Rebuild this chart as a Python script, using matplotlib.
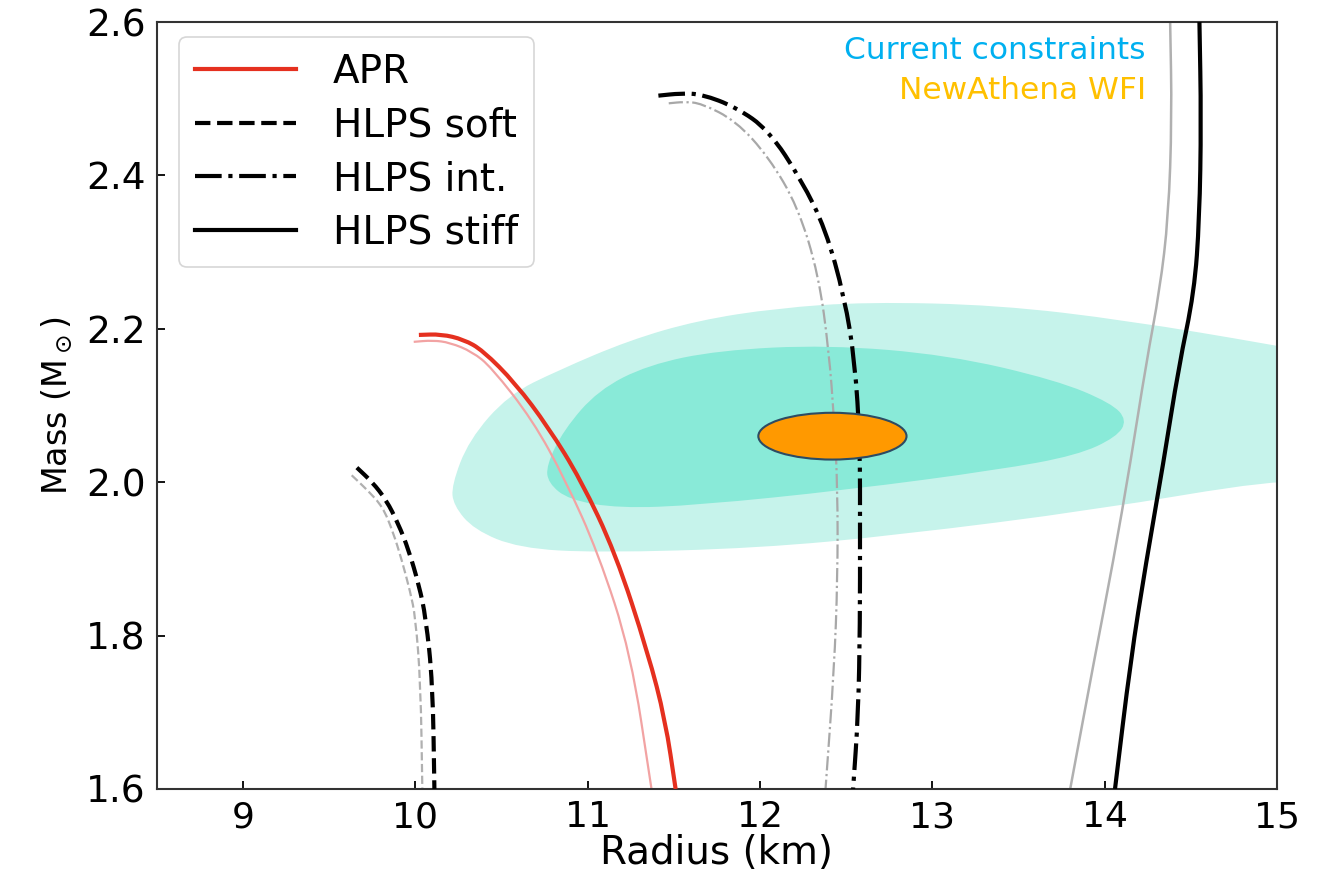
import matplotlib
matplotlib.use("Agg")
import matplotlib.pyplot as plt
from matplotlib.path import Path
from matplotlib.patches import PathPatch, Ellipse
from matplotlib.lines import Line2D

# mass-radius curves (R in km, M in Msun); *_b = companion (pale) track
apr_r = [10.02, 10.15, 10.28, 10.39, 10.58, 10.77, 10.96, 11.16, 11.35, 11.45, 11.51]
apr_m = [2.192, 2.193, 2.186, 2.172, 2.129, 2.072, 2.003, 1.908, 1.777, 1.690, 1.600]
apr_rb = [9.99, 10.10, 10.20, 10.33, 10.44, 10.68, 10.87, 11.06, 11.25, 11.37]
apr_mb = [2.183, 2.185, 2.182, 2.170, 2.150, 2.081, 2.003, 1.908, 1.777, 1.600]

soft_r = [9.66, 9.75, 9.83, 9.90, 9.96, 10.02, 10.06, 10.10, 10.11]
soft_m = [2.019, 2.000, 1.977, 1.946, 1.912, 1.866, 1.824, 1.738, 1.600]
soft_rb = [9.63, 9.72, 9.81, 9.87, 9.92, 9.97, 10.00, 10.03, 10.04]
soft_mb = [2.009, 1.990, 1.968, 1.935, 1.899, 1.857, 1.824, 1.738, 1.600]

int_r = [11.41, 11.54, 11.66, 11.86, 12.05, 12.24, 12.38, 12.49, 12.55, 12.58, 12.58, 12.58, 12.57, 12.54]
int_m = [2.504, 2.507, 2.506, 2.489, 2.459, 2.394, 2.330, 2.241, 2.158, 2.052, 1.934, 1.816, 1.698, 1.600]
int_rb = [11.47, 11.56, 11.66, 11.86, 12.05, 12.22, 12.34, 12.40, 12.43, 12.45, 12.45, 12.43, 12.38]
int_mb = [2.494, 2.496, 2.494, 2.471, 2.424, 2.359, 2.270, 2.170, 2.081, 1.992, 1.875, 1.756, 1.600]

stiff_r = [14.55, 14.56, 14.55, 14.52, 14.43, 14.34, 14.24, 14.15, 14.06]
stiff_m = [2.600, 2.472, 2.343, 2.248, 2.151, 2.024, 1.895, 1.767, 1.600]
stiff_rb = [14.38, 14.39, 14.37, 14.32, 14.24, 14.15, 14.05, 13.94, 13.80]
stiff_mb = [2.600, 2.475, 2.346, 2.251, 2.154, 2.026, 1.897, 1.769, 1.600]

# current constraints: outer / inner credible regions (outline vertices)
outer_r = [10.21, 10.31, 10.54, 10.83, 11.24, 11.64, 12.10, 12.62, 13.38, 14.13, 14.98, 15.30,
           15.30, 14.98, 13.95, 12.80, 11.99, 11.06, 10.60, 10.34, 10.22]
outer_m = [1.996, 2.055, 2.114, 2.146, 2.185, 2.211, 2.227, 2.235, 2.231, 2.211, 2.179, 2.165,
           1.998, 2.003, 1.964, 1.931, 1.914, 1.908, 1.914, 1.938, 1.970]
inner_r = [10.76, 10.86, 11.06, 11.35, 11.76, 12.39, 13.09, 13.72, 14.04, 14.13, 14.07, 13.84,
           13.38, 12.51, 11.64, 11.18, 10.89, 10.77]
inner_m = [2.022, 2.068, 2.120, 2.153, 2.172, 2.179, 2.166, 2.133, 2.103, 2.081, 2.059, 2.035,
           2.016, 1.990, 1.970, 1.966, 1.977, 1.999]

# NewAthena WFI projected constraint
wfi_r, wfi_m = 12.42, 2.06
wfi_dr, wfi_dm = 0.86, 0.061

labels = ["APR", "HLPS soft", "HLPS int.", "HLPS stiff"]


def mid(a, b):
    return ((a[0] + b[0]) / 2, (a[1] + b[1]) / 2)


def smooth_region(xs, ys):
    pts = list(zip(xs, ys))
    n = len(pts)
    verts = [mid(pts[-1], pts[0])]
    codes = [Path.MOVETO]
    for i in range(n):
        verts += [pts[i], mid(pts[i], pts[(i + 1) % n])]
        codes += [Path.CURVE3, Path.CURVE3]
    return Path(verts, codes)


def smooth_curve(xs, ys):
    pts = list(zip(xs, ys))
    verts = [pts[0], mid(pts[0], pts[1])]
    codes = [Path.MOVETO, Path.LINETO]
    for i in range(1, len(pts) - 1):
        verts += [pts[i], mid(pts[i], pts[i + 1])]
        codes += [Path.CURVE3, Path.CURVE3]
    verts.append(pts[-1])
    codes.append(Path.LINETO)
    return Path(verts, codes)


def track(ax, xs, ys, **kw):
    ax.add_patch(PathPatch(smooth_curve(xs, ys), fill=False, capstyle="butt", **kw))


fig = plt.figure(figsize=(13.27, 8.74), dpi=100)
ax = fig.add_axes([0.1183, 0.0973, 0.8440, 0.8775])

ax.add_patch(PathPatch(smooth_region(outer_r, outer_m), fc="#c6f3eb", ec="none", zorder=1))
ax.add_patch(PathPatch(smooth_region(inner_r, inner_m), fc="#89ead8", ec="none", zorder=1))

track(ax, apr_rb, apr_mb, ec="#f2a3a3", lw=1.6, zorder=2)
track(ax, soft_rb, soft_mb, ec="#b0b0b0", lw=1.6, ls="--", zorder=2)
track(ax, int_rb, int_mb, ec="#a8a8a8", lw=1.6, ls="-.", zorder=2)
track(ax, stiff_rb, stiff_mb, ec="#b0b0b0", lw=1.8, zorder=2)

track(ax, apr_r, apr_m, ec="#e5301f", lw=3, zorder=3)
track(ax, soft_r, soft_m, ec="black", lw=3, ls="--", zorder=3)
track(ax, int_r, int_m, ec="black", lw=3, ls="-.", zorder=3)
track(ax, stiff_r, stiff_m, ec="black", lw=3, zorder=3)

ax.add_patch(Ellipse((wfi_r, wfi_m), wfi_dr, wfi_dm, fc="#ff9900", ec="#2d4b63",
                     lw=1.5, zorder=4))

ax.set_xlim(8.5, 15)
ax.set_ylim(1.6, 2.6)
ax.set_xticks([9, 10, 11, 12, 13, 14, 15])
ax.set_yticks([1.6, 1.8, 2.0, 2.2, 2.4, 2.6])
ax.tick_params(direction="in", length=6, width=1.3, labelsize=26, pad=8)
ax.tick_params(axis="y", labelsize=27)
for s in ax.spines.values():
    s.set_linewidth(1.5)
    s.set_color("#333333")

ax.set_xlabel("Radius (km)", fontsize=28, labelpad=0)
ax.set_ylabel(r"Mass (M$_\odot$)", fontsize=24, labelpad=8)

ax.text(0.883, 0.9635, "Current constraints", transform=ax.transAxes, ha="right",
        va="center", color="#00b0f0", fontsize=22.5)
ax.text(0.883, 0.911, "NewAthena WFI", transform=ax.transAxes, ha="right",
        va="center", color="#ffc000", fontsize=22.5)

handles = [
    Line2D([], [], color="#e5301f", lw=3),
    Line2D([], [], color="black", lw=3, ls="--"),
    Line2D([], [], color="black", lw=3, ls="-."),
    Line2D([], [], color="black", lw=3),
]
leg = ax.legend(handles, labels, loc="upper left", bbox_to_anchor=(0.02, 0.98),
                borderaxespad=0, fontsize=28, handlelength=2.6, handletextpad=0.95,
                labelspacing=0.4, frameon=True, fancybox=True, edgecolor="#cccccc")
leg.get_frame().set_linewidth(1.2)

fig.savefig("out.png", dpi=100, facecolor="white")
